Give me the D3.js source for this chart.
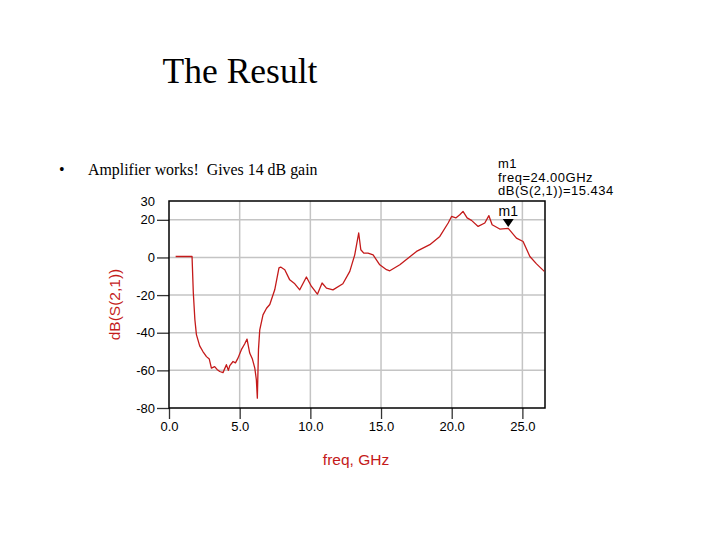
<!DOCTYPE html>
<html>
<head>
<meta charset="utf-8">
<script src="https://cdn.jsdelivr.net/npm/d3@7"></script>
<style>
  body { margin: 0; background: #fff; }
</style>
</head>
<body>
<div id="chart"></div>
<script>
// trace S21
var freq = [0.47, 1.63, 1.72, 1.83, 1.94, 2.17, 2.4, 2.65, 2.85, 3.0, 3.23, 3.4, 3.59, 3.82, 4.06, 4.2, 4.3, 4.53, 4.7, 4.88,
  5.12, 5.35, 5.52, 5.71, 5.9, 6.07, 6.18, 6.25, 6.33, 6.42, 6.65, 6.9, 7.13, 7.48, 7.78, 7.9, 8.19, 8.54, 8.9, 9.25,
  9.72, 10.08, 10.5, 10.83, 11.14, 11.6, 12.3, 12.79, 13.14, 13.42, 13.57, 13.78, 14.08, 14.44, 14.91, 15.39, 15.62, 16.33, 17.51, 18.45,
  19.16, 19.75, 19.99, 20.29, 20.57, 20.8, 21.09, 21.4, 21.87, 22.34, 22.63, 22.86, 23.4, 24.0, 24.58, 25.05, 25.53, 26.0, 26.55]
var s21 = [0.5, 0.5, -18.8, -33, -41, -47, -50, -52.7, -54, -58.8, -58, -59.5, -60.6, -61.2, -57, -60, -57.5, -55.3, -56, -53.5,
  -49, -46, -43.4, -50.8, -54, -58.8, -65, -74.8, -49, -38.5, -30.5, -27, -25, -17.2, -5.5, -5.1, -6.5, -11.9, -14, -17.2,
  -10.4, -15.4, -19.5, -13.6, -16.3, -17.2, -14, -7.4, 1.4, 13, 4.1, 2.3, 2.3, 1.4, -3.9, -6.5, -7.1, -3.9, 3.2, 6.8,
  11.2, 18.3, 21.8, 21, 22.7, 24.5, 21, 19.7, 16.5, 18.3, 22.2, 17.4, 15.1, 15.434, 10.3, 8.5, 0.5, -3.4, -7.4]

var xTicks = [0, 5, 10, 15, 20, 25]
var yTicks = [30, 20, 0, -20, -40, -60, -80]
var yGrid = [20, 0, -20, -40, -60]

var markerName = "m1"
var markerFreq = 24.0
var markerVal = 15.434

var width = 720, height = 540
var plotLeft = 169, plotRight = 545, plotTop = 201, plotBottom = 408
var red = "#c41a1a"
var sans = "'Liberation Sans', Arial, sans-serif"

var svg = d3.select("#chart").append("svg")
  .attr("width", width)
  .attr("height", height)

var x = d3.scaleLinear().domain([0, 26.6]).range([plotLeft, plotRight])
var y = d3.scaleLinear().domain([-80, 30]).range([plotBottom, plotTop])

// slide text
svg.append("text")
  .attr("x", 240).attr("y", 83)
  .attr("text-anchor", "middle")
  .style("font-family", "'Liberation Serif', 'Times New Roman', serif")
  .style("font-size", "35.5px")
  .text("The Result")

svg.append("text")
  .attr("x", 59).attr("y", 175)
  .style("font-family", "'Liberation Serif', serif")
  .style("font-size", "16px")
  .text("•")

svg.append("text")
  .attr("x", 88).attr("y", 175)
  .style("font-family", "'Liberation Serif', serif")
  .style("font-size", "15.9px")
  .attr("xml:space", "preserve")
  .text("Amplifier works!  Gives 14 dB gain")

// grid
svg.append("g").selectAll("line").data(xTicks.slice(1)).enter().append("line")
  .attr("x1", d => x(d)).attr("x2", d => x(d))
  .attr("y1", plotTop).attr("y2", plotBottom)
  .attr("stroke", "#c4c4c4").attr("stroke-width", 1.5)

svg.append("g").selectAll("line").data(yGrid).enter().append("line")
  .attr("x1", plotLeft).attr("x2", plotRight)
  .attr("y1", d => y(d)).attr("y2", d => y(d))
  .attr("stroke", "#c4c4c4").attr("stroke-width", 1.5)

// axes
var xAxis = svg.append("g")
  .attr("transform", "translate(0," + plotBottom + ")")
  .call(d3.axisBottom(x).tickValues(xTicks).tickFormat(d => d.toFixed(1)).tickSize(11).tickPadding(3))
var yAxis = svg.append("g")
  .attr("transform", "translate(" + plotLeft + ",0)")
  .call(d3.axisLeft(y).tickValues(yTicks).tickFormat(d => String(d)).tickSize(12).tickPadding(2))

;[xAxis, yAxis].forEach(function(a) {
  a.select(".domain").remove()
  a.selectAll("text")
    .style("font-family", sans)
    .style("font-size", "13px")
    .attr("fill", "#000")
  a.selectAll("line").attr("stroke", "#333").attr("stroke-width", 1.3)
})
yAxis.selectAll(".tick").filter(d => d === 30).select("line").remove()

// frame
svg.append("rect")
  .attr("x", plotLeft).attr("y", plotTop)
  .attr("width", plotRight - plotLeft).attr("height", plotBottom - plotTop)
  .attr("fill", "none").attr("stroke", "#000").attr("stroke-width", 1.5)

// trace
var line = d3.line()
  .x(function(d, i) { return x(freq[i]) })
  .y(function(d) { return y(d) })

svg.append("path")
  .datum(s21)
  .attr("d", line)
  .attr("fill", "none")
  .attr("stroke", red)
  .attr("stroke-width", 1.3)
  .attr("stroke-linejoin", "round")

// marker
var mx = x(markerFreq), my = y(markerVal) - 1.5
svg.append("path")
  .attr("d", "M" + (mx - 5.5) + "," + (my - 8) + "L" + (mx + 5.5) + "," + (my - 8) + "L" + mx + "," + my + "Z")
  .attr("fill", "#000")
svg.append("text")
  .attr("x", mx).attr("y", my - 11)
  .attr("text-anchor", "middle")
  .style("font-family", sans)
  .style("font-size", "14px")
  .text(markerName)

var readout = svg.append("g")
  .style("font-family", sans)
  .style("font-size", "13px")
  .style("letter-spacing", "0.5px")
readout.append("text").attr("x", 498).attr("y", 168).text(markerName)
readout.append("text").attr("x", 498).attr("y", 181.5).text("freq=" + markerFreq.toFixed(2) + "GHz")
readout.append("text").attr("x", 498).attr("y", 195).text("dB(S(2,1))=" + markerVal)

// axis titles
svg.append("text")
  .attr("transform", "translate(120," + y(-25) + ") rotate(-90)")
  .attr("text-anchor", "middle")
  .attr("fill", red)
  .style("font-family", sans)
  .style("font-size", "15.5px")
  .text("dB(S(2,1))")

svg.append("text")
  .attr("x", 356).attr("y", 465)
  .attr("text-anchor", "middle")
  .attr("fill", red)
  .style("font-family", sans)
  .style("font-size", "15.5px")
  .text("freq, GHz")
</script>
</body>
</html>
